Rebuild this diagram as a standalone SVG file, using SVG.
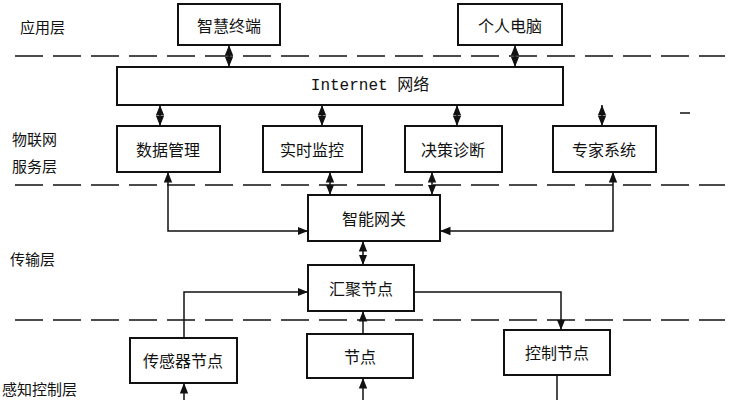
<svg xmlns="http://www.w3.org/2000/svg" width="731" height="400" viewBox="0 0 731 400">
<defs>
<marker id="a" viewBox="0 0 10 10" refX="10" refY="5" markerWidth="7" markerHeight="7" orient="auto-start-reverse"><path d="M0,1 L10,5 L0,9 z" fill="#111"/></marker>
</defs>
<style>
.b{fill:#fff;stroke:#111;stroke-width:2}
.t{font-family:"Noto Sans CJK SC",sans-serif;font-size:16px;fill:#111;text-anchor:middle;dominant-baseline:central}
.l{font-family:"Noto Sans CJK SC",sans-serif;font-size:15px;fill:#111}
.d{stroke:#111;stroke-width:1.5;stroke-dasharray:28,10;fill:none}
.c{stroke:#111;stroke-width:1.5;fill:none}
</style>
<rect width="731" height="400" fill="#fff"/>
<g id="layers">
<line class="d" x1="15" y1="56" x2="725" y2="56"/>
<line class="d" x1="15" y1="185" x2="725" y2="185"/>
<line class="d" x1="15" y1="320" x2="725" y2="320"/>
<line class="c" x1="680" y1="113" x2="690" y2="113"/>
<text class="l" x="20" y="33">应用层</text>
<text class="l" x="12" y="145">物联网</text>
<text class="l" x="12" y="172">服务层</text>
<text class="l" x="10" y="265">传输层</text>
<text class="l" x="2" y="395">感知控制层</text>
</g>
<g id="connectors">
<line class="c" x1="229" y1="45" x2="229" y2="67" marker-start="url(#a)" marker-end="url(#a)"/>
<line class="c" x1="515" y1="45" x2="515" y2="67" marker-start="url(#a)" marker-end="url(#a)"/>
<line class="c" x1="160" y1="105" x2="160" y2="126" marker-start="url(#a)" marker-end="url(#a)"/>
<line class="c" x1="322" y1="105" x2="322" y2="126" marker-start="url(#a)" marker-end="url(#a)"/>
<line class="c" x1="457" y1="105" x2="457" y2="126" marker-start="url(#a)" marker-end="url(#a)"/>
<line class="c" x1="602" y1="105" x2="602" y2="126" marker-start="url(#a)" marker-end="url(#a)"/>
<polyline class="c" points="168,172 168,231 308,231" marker-start="url(#a)" marker-end="url(#a)"/>
<polyline class="c" points="613,172 613,231 440,231" marker-start="url(#a)" marker-end="url(#a)"/>
<line class="c" x1="330" y1="172" x2="330" y2="195" marker-start="url(#a)" marker-end="url(#a)"/>
<line class="c" x1="432" y1="172" x2="432" y2="195" marker-start="url(#a)" marker-end="url(#a)"/>
<line class="c" x1="363" y1="241" x2="363" y2="265" marker-start="url(#a)" marker-end="url(#a)"/>
<polyline class="c" points="184,338 184,292 308,292" marker-end="url(#a)"/>
<line class="c" x1="363" y1="334" x2="363" y2="311" marker-end="url(#a)"/>
<polyline class="c" points="414,292 561,292 561,330" marker-end="url(#a)"/>
<line class="c" x1="184" y1="400" x2="184" y2="383" marker-end="url(#a)"/>
<line class="c" x1="363" y1="400" x2="363" y2="378" marker-end="url(#a)"/>
<line class="c" x1="557" y1="375" x2="557" y2="400"/>
</g>
<g id="n1"><rect class="b" x="178" y="4" width="102" height="41"/><text class="t" x="229" y="25">智慧终端</text></g>
<g id="n2"><rect class="b" x="458" y="4" width="104" height="41"/><text class="t" x="510" y="25">个人电脑</text></g>
<g id="n3"><rect class="b" x="117" y="67" width="446" height="38"/><text class="t" x="370" y="86" style="font-family:'Liberation Mono','Noto Sans CJK SC',monospace">Internet 网络</text></g>
<g id="n4"><rect class="b" x="117" y="126" width="103" height="46"/><text class="t" x="168" y="149">数据管理</text></g>
<g id="n5"><rect class="b" x="263" y="126" width="99" height="46"/><text class="t" x="312" y="149">实时监控</text></g>
<g id="n6"><rect class="b" x="405" y="126" width="97" height="46"/><text class="t" x="453" y="149">决策诊断</text></g>
<g id="n7"><rect class="b" x="553" y="126" width="103" height="46"/><text class="t" x="604" y="149">专家系统</text></g>
<g id="n8"><rect class="b" x="308" y="195" width="132" height="46"/><text class="t" x="374" y="218">智能网关</text></g>
<g id="n9"><rect class="b" x="308" y="265" width="106" height="46"/><text class="t" x="361" y="288">汇聚节点</text></g>
<g id="n10"><rect class="b" x="130" y="338" width="107" height="45"/><text class="t" x="183" y="360">传感器节点</text></g>
<g id="n11"><rect class="b" x="307" y="334" width="106" height="44"/><text class="t" x="360" y="356">节点</text></g>
<g id="n12"><rect class="b" x="504" y="330" width="106" height="45"/><text class="t" x="557" y="352">控制节点</text></g>
</svg>
